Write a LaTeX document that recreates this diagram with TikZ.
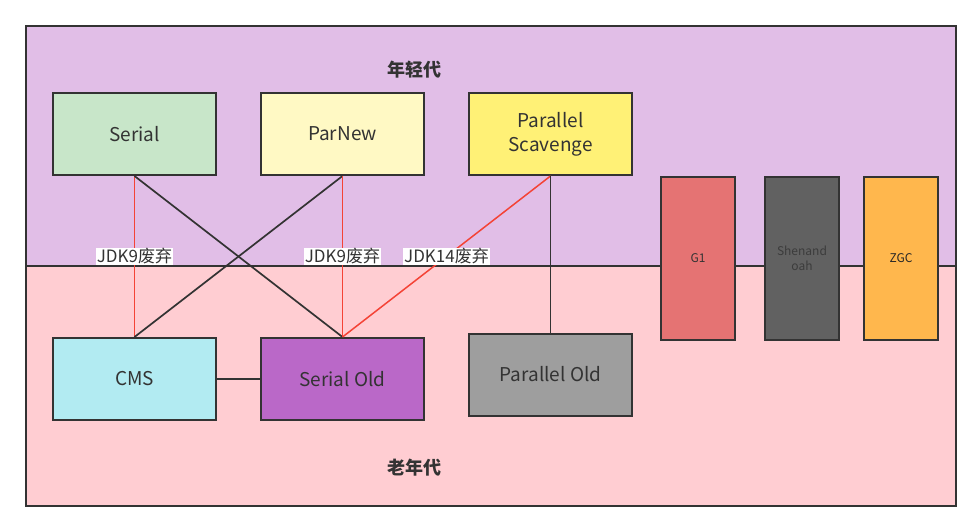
\documentclass[tikz,border=0pt]{standalone}
\usepackage{fontspec}
\setmainfont{Noto Sans CJK SC}
\definecolor{young}{HTML}{E1BEE7}
\definecolor{old}{HTML}{FFCDD2}
\definecolor{edge}{HTML}{333333}
\definecolor{redline}{HTML}{F44336}
\definecolor{cSerial}{HTML}{C8E6C9}
\definecolor{cParNew}{HTML}{FFF9C4}
\definecolor{cPS}{HTML}{FFF176}
\definecolor{cCMS}{HTML}{B2EBF2}
\definecolor{cSO}{HTML}{BA68C8}
\definecolor{cPO}{HTML}{9E9E9E}
\definecolor{cG1}{HTML}{E57373}
\definecolor{cShen}{HTML}{616161}
\definecolor{cZGC}{HTML}{FFB74D}
\tikzset{
  region/.style={draw=edge, line width=2pt, inner sep=0pt, anchor=north west},
  gcbox/.style={draw=edge, line width=2pt, inner sep=0pt, minimum width=163pt, minimum height=82pt,
    text=edge, font=\fontsize{19}{24}\selectfont, align=center},
  tallbox/.style={draw=edge, line width=2pt, inner sep=0pt, minimum width=74pt, minimum height=163pt,
    text=edge, font=\fontsize{12}{15}\selectfont, align=center},
  title/.style={text=edge, font=\fontsize{18}{21}\selectfont\bfseries},
  link/.style={draw=edge, line width=1.7pt},
  deprecated/.style={draw=redline, line width=1.5pt},
  tag/.style={fill=white, text=edge, inner sep=1pt, font=\fontsize{17}{19}\selectfont}
}
\begin{document}
\begin{tikzpicture}[x=1pt,y=-1pt]
\useasboundingbox (0,0) rectangle (980,530);
% regions
\node[region, fill=young, minimum width=930pt, minimum height=240pt] (youngreg) at (25,25) {};
\node[region, fill=old, minimum width=930pt, minimum height=240pt] (oldreg) at (25,265) {};
\node[title] (youngtitle) at (414,70) {年轻代};
\node[title] (oldtitle) at (414,468) {老年代};
% boxes
\node[gcbox, fill=cSerial] (serial) at (134.5,134) {Serial};
\node[gcbox, fill=cParNew] (parnew) at (342.5,134) {ParNew};
\node[gcbox, fill=cPS] (ps) at (550.5,134) {Parallel\\Scavenge};
\node[gcbox, fill=cCMS] (cms) at (134.5,379) {CMS};
\node[gcbox, fill=cSO] (so) at (342.5,379) {Serial Old};
\node[gcbox, fill=cPO] (po) at (550.5,374.5) {Parallel Old};
\node[tallbox, fill=cG1] (g1) at (698,258.5) {G1};
\node[tallbox, fill=cShen, text=edge!80!cShen] (shen) at (802,258.5) {Shenand\\oah};
\node[tallbox, fill=cZGC, text=black!85] (zgc) at (901,258.5) {ZGC};
% connectors
\draw[deprecated] (serial.south) -- node[tag, pos=0.5] {JDK9废弃} (cms.north);
\draw[link] (serial.south) -- (so.north);
\draw[link] (parnew.south) -- (cms.north);
\draw[deprecated] (parnew.south) -- node[tag, pos=0.5] {JDK9废弃} (so.north);
\draw[deprecated] (ps.south) -- node[tag, pos=0.5] {JDK14废弃} (so.north);
\draw[link] (ps.south) -- (po.north);
\draw[link] (cms.east) -- (so.west);
\end{tikzpicture}
\end{document}
